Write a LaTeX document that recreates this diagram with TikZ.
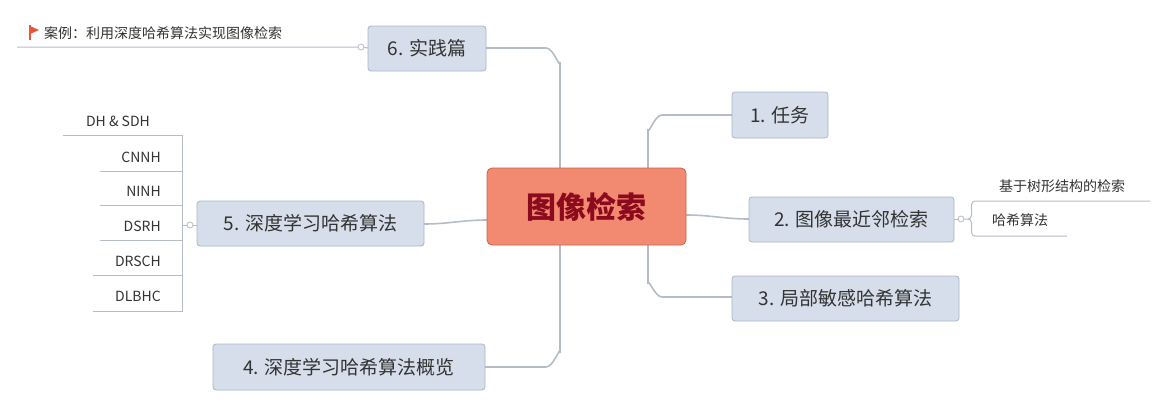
\documentclass[tikz,border=0pt]{standalone}
\usepackage{fontspec}
\setmainfont{Noto Sans CJK SC}
\definecolor{topicc}{HTML}{D5DEEA}
\definecolor{bordc}{HTML}{A9B6C8}
\definecolor{linec}{HTML}{B5BCC8}
\definecolor{textc}{HTML}{333333}
\definecolor{salmon}{HTML}{F18A70}
\definecolor{salmond}{HTML}{C9604A}
\definecolor{darkred}{HTML}{8B0A1E}
\definecolor{flagred}{HTML}{E8553A}
\begin{document}
\begin{tikzpicture}[x=1pt,y=-1pt,
  topic/.style={draw=bordc,fill=topicc,rounded corners=3pt,line width=0.8pt,inner sep=0pt,font=\fontsize{19}{22}\selectfont,text=textc},
  sub/.style={inner sep=0pt,font=\fontsize{14}{16}\selectfont,text=textc},
  con/.style={draw=linec,line width=1.6pt},
  thin/.style={draw=linec,line width=1pt},
  knob/.style={circle,draw=linec,fill=white,line width=0.8pt,inner sep=0pt,minimum size=6pt}]
\useasboundingbox (0,0) rectangle (1169,407);
% connectors first
\coordinate (c6a) at (560,168);
\coordinate (c4a) at (560,245);
\coordinate (c1a) at (648,168);
\coordinate (c3a) at (648,245);
\draw[con] (c6a) -- (560,62) to[out=-90,in=0] (546,48) -- (486,48);
\draw[con] (c4a) -- (560,353) to[out=90,in=0] (546,367) -- (485,367);
\draw[con] (c1a) -- (648,129) to[out=-90,in=180] (662,115) -- (732,115);
\draw[con] (c3a) -- (648,284) to[out=90,in=180] (662,297) -- (732,297);
\draw[con] (487,220) to[out=180,in=0] (424,224);
\draw[con] (686,215) to[out=0,in=180] (749,219);
% center
\node[draw=salmond,fill=salmon,rounded corners=5pt,minimum width=199pt,minimum height=77pt,font=\fontsize{30}{34}\selectfont\bfseries,text=darkred,line width=0.8pt] (center) at (586.5,206.5) {图像检索};
% topics
\node[topic,minimum width=96pt,minimum height=46pt] (t1) at (780,115) {1. 任务};
\node[topic,minimum width=205pt,minimum height=45pt] (t2) at (851.5,219.5) {2. 图像最近邻检索};
\node[topic,minimum width=227pt,minimum height=45pt] (t3) at (845.5,298.5) {3. 局部敏感哈希算法};
\node[topic,minimum width=272pt,minimum height=46pt] (t4) at (349,367) {4. 深度学习哈希算法概览};
\node[topic,minimum width=227pt,minimum height=45pt] (t5) at (310.5,223.5) {5. 深度学习哈希算法};
\node[topic,minimum width=118pt,minimum height=45pt] (t6) at (427,48.5) {6. 实践篇};
% subitems of 2
\coordinate (k2) at (961,219);
\draw[thin] (k2) -- (968,219) to[out=0,in=180] (975,201) -- (1150,201);
\draw[thin] (968,219) to[out=0,in=180] (975,236) -- (1067,236);
\draw[thin] (954,219) -- (k2);
\node[knob] at (k2) {};
\node[sub] (s21) at (1062,186) {基于树形结构的检索};
\node[sub] (s22) at (1020,220) {哈希算法};
% subitems of 5
\coordinate (k5) at (190,225);
\draw[thin] (197,225) -- (k5);
\draw[thin] (63,135) -- (182,135) -- (182,311) -- (93,311);
\draw[thin] (100,171) -- (182,171);
\draw[thin] (100,205) -- (182,205);
\draw[thin] (100,240) -- (182,240);
\draw[thin] (93,275) -- (182,275);
\draw[thin] (182,225) -- (k5);
\node[knob] at (k5) {};
\node[sub] (a1) at (118,121) {DH \& SDH};
\node[sub,anchor=east] (a2) at (161,157) {CNNH};
\node[sub,anchor=east] (a3) at (161,191) {NINH};
\node[sub,anchor=east] (a4) at (161,226) {DSRH};
\node[sub,anchor=east] (a5) at (161,261) {DRSCH};
\node[sub,anchor=east] (a6) at (161,296) {DLBHC};
% subitem of 6
\coordinate (k6) at (361,47);
\draw[thin] (17,47) -- (k6) -- (368,48);
\node[knob] at (k6) {};
\node[sub,anchor=west] (e1) at (44,33) {案例：利用深度哈希算法实现图像检索};
\fill[flagred] (30,26) -- (39,30) -- (30,34) -- cycle;
\draw[flagred,line width=1.2pt] (30,25) -- (30,40);
\end{tikzpicture}
\end{document}
